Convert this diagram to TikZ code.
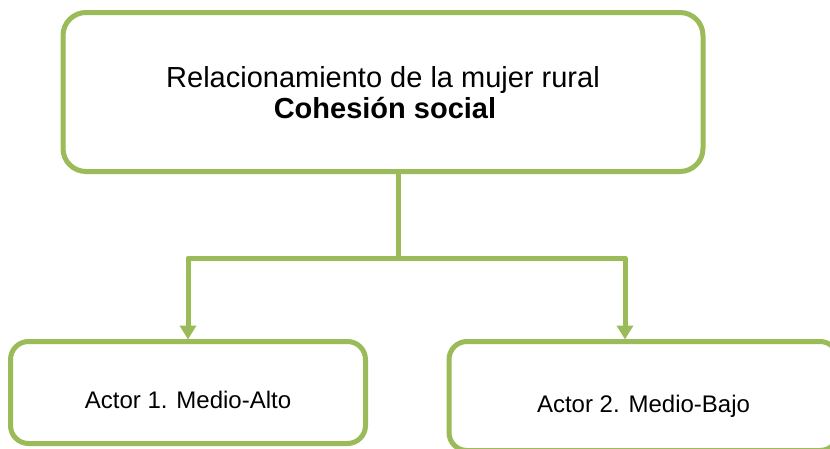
\documentclass[tikz,border=0pt]{standalone}
\usepackage{fontspec}
\setmainfont{Liberation Sans}
\usetikzlibrary{arrows.meta}
\definecolor{boxgreen}{HTML}{9BBB59}
\begin{document}
\begin{tikzpicture}[x=1pt,y=1pt,
  box/.style={draw=boxgreen, line width=5pt, rounded corners=#1, inner sep=0pt, outer sep=0pt, fill=white},
  link/.style={draw=boxgreen, line width=5pt, line join=round},
  arrowlink/.style={link, -{Triangle[width=16pt,length=14pt]}, shorten >=2pt},
  toptext/.style={font=\fontsize{29}{31}\selectfont, anchor=base, inner sep=0pt},
  actortext/.style={font=\fontsize{24}{28}\selectfont, anchor=base, inner sep=0pt}]
\useasboundingbox (0,0) rectangle (830,-448);
\clip (0,0) rectangle (830,-448);
\node[box=23pt, minimum width=640pt, minimum height=159pt] (top) at (383,-92) {};
\node[box=18pt, minimum width=355pt, minimum height=102pt] (left) at (188,-392.5) {};
\node[box=18pt, minimum width=389pt, minimum height=109pt] (right) at (643.5,-396) {};
\node[toptext] (t1) at (383,-87) {Relacionamiento de la mujer rural};
\node[toptext, font=\fontsize{29}{31}\selectfont\bfseries] (t2) at (385,-118) {Cohesión social};
\node[actortext] (a1) at (188,-408) {Actor 1. Medio-Alto};
\node[actortext] (a2) at (643.5,-412) {Actor 2. Medio-Bajo};
\coordinate (j) at (398,-258);
\coordinate (rj) at (625,-258);
\draw[link] (top.south -| j) -- (j);
\draw[arrowlink] (j) -| (left.north);
\draw[arrowlink] (j) -- (rj) -- (rj |- right.north);
\end{tikzpicture}
\end{document}
